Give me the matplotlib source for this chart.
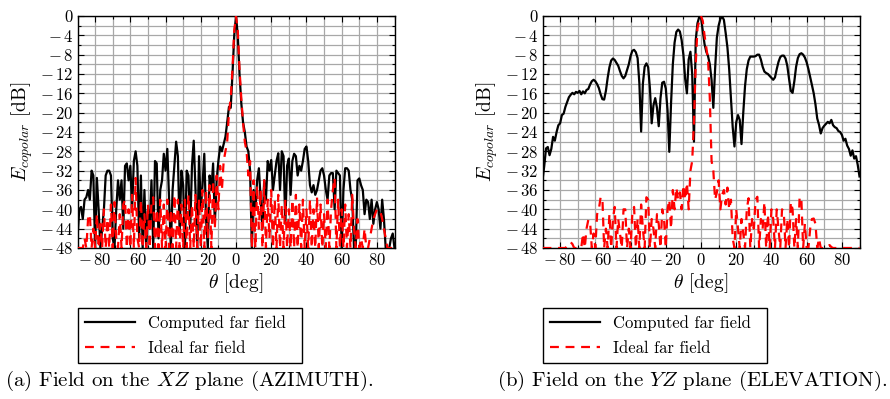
import numpy as np
import matplotlib.pyplot as plt
from matplotlib.ticker import MultipleLocator, FuncFormatter

plt.rcParams['mathtext.fontset'] = 'cm'
plt.rcParams['font.family'] = 'serif'
plt.rcParams['font.serif'] = ['cmr10']
plt.rcParams['axes.formatter.use_mathtext'] = True
plt.rcParams['axes.unicode_minus'] = True

# Winkel in Grad, 1 Grad Schritte
theta = np.arange(-90, 91)

# Azimut (XZ-Ebene)
az_comp = [
    -46, -40, -39.5, -42, -38, -37.5, -36, -38, -32, -33,        # -90
    -48, -33.5, -40, -48, -44, -40, -33, -32, -32, -33,          # -80
    -46, -48, -40, -34, -38, -34, -44, -31, -30.5, -34,          # -70
    -31, -40, -30, -28, -31, -46, -33, -48, -36, -48,            # -60
    -40, -44, -34, -48, -30, -30.5, -46, -36, -34, -28.5,        # -50
    -32, -27.5, -38, -48, -36, -31, -26, -29, -45, -32,          # -40
    -35, -48, -32, -33, -44, -31, -25.8, -36, -48, -29,          # -30
    -40, -35, -28.5, -42, -48, -33, -36, -30.5, -43, -34,        # -20
    -30, -27, -28, -26.5, -25, -22, -18.8, -19, -12, -4,         # -10
    0, -4, -12, -18, -22, -24, -27, -28, -32, -48,               # 0
    -36, -40, -34, -31.5, -38, -44, -34, -38, -30, -32,          # 10
    -29.8, -36, -33, -30, -28.4, -36, -28, -29, -43, -31,        # 20
    -29.5, -37, -30, -28.5, -29, -33, -31, -32, -30, -27.5,      # 30
    -27, -30, -35, -36.5, -35, -37, -36, -34, -32, -31.5,        # 40
    -33, -36, -38, -33, -32.5, -32.5, -40, -32, -32.5, -33,      # 50
    -48, -36, -31.5, -31.5, -32, -36, -38, -48, -48, -34,        # 60
    -33.6, -35, -36, -41, -38, -38.5, -42, -38, -43, -40,        # 70
    -38.5, -40, -44, -38, -42, -48, -48, -48, -46, -45,          # 80
    -48,
]
az_ideal = [
    -48, -48, -48, -48, -46, -48, -42, -41, -48, -44,
    -48, -41, -48, -43, -48, -40, -48, -42, -48, -39,
    -48, -38.5, -46, -48, -41, -48, -39, -38, -48, -40,
    -48, -37, -48, -33.5, -46, -48, -38, -48, -41, -48,
    -39, -48, -38.5, -37.5, -48, -40, -48, -38, -48, -39,
    -48, -38, -48, -40, -48, -37, -48, -38, -48, -39,
    -48, -38, -48, -37, -48, -39, -48, -37, -48, -38,
    -48, -36, -48, -36, -46, -35, -48, -34, -44, -33,
    -40, -31, -36, -30, -28, -26, -20, -17, -11, -3,
    0, -3, -11, -17, -22, -26, -28, -33, -30, -48,
    -34, -48, -35, -44, -36, -48, -34, -48, -38, -46,
    -36, -48, -38, -48, -37, -48, -39, -48, -38, -48,
    -40, -48, -38, -48, -37, -48, -39, -48, -38, -48,
    -40, -48, -38, -48, -40, -48, -37.5, -48, -39, -48,
    -41, -48, -38, -48, -40, -36, -33.5, -48, -38, -48,
    -40, -48, -39, -48, -41, -48, -37, -44, -48, -42,
    -48, -46, -48, -44, -48, -48, -46, -44, -42, -41,
    -40, -40, -40.5, -42, -44, -46, -48, -48, -48, -48,
    -48,
]

# Elevation (YZ-Ebene)
el_comp = [
    -34, -31, -27.4, -27.1, -28.8, -27.5, -25, -25.8, -24, -22.6,
    -22.2, -20.5, -20.2, -18.8, -17.8, -16.8, -16.3, -15.9, -16.2, -15.7,
    -15.9, -15.5, -16.2, -15.6, -16, -15.3, -15.1, -14.2, -13.5, -13.2,
    -13.5, -14.1, -14.9, -16.2, -17.2, -17.3, -15.5, -12.8, -10.6, -9.2,
    -8.8, -9.1, -9.7, -10.3, -11.4, -12.4, -12.9, -12.4, -11.2, -10.0,
    -8.3, -7.2, -7.0, -7.5, -8.7, -13.9, -23.9, -14, -10.5, -9.8,
    -10.6, -15, -22.2, -18.5, -17.0, -19, -22.8, -17, -13.8, -13.6,
    -15, -19.5, -28.1, -18, -10, -5.5, -3.3, -2.8, -3.2, -5,
    -8, -13, -16, -9, -7.4, -12, -26, -5, -1.5, -0.2,
    -0.3, -3, -5.8, -7.4, -8.3, -10, -13.2, -19, -11, -4.5,
    -2, -0.6, -0.1, -0.8, -3.5, -6.5, -11, -17, -23, -27,
    -22, -20.5, -21.5, -26.5, -20, -14.5, -11, -9.2, -8.4, -8.4,
    -8.4, -8.3, -8.0, -8.0, -9, -10.5, -11.5, -11.8, -12, -12.4,
    -12.8, -13.2, -12.7, -11, -9.5, -8.5, -8.2, -8.2, -8.8, -10.3,
    -13, -15.5, -15.9, -13.5, -10.5, -8.7, -7.9, -7.7, -8, -8.6,
    -9.6, -11, -12.6, -14.3, -16, -18.3, -21.2, -22.5, -24.3, -23.2,
    -22.7, -22.3, -21.9, -22.2, -21.5, -22.6, -23, -23.2, -23.8, -24,
    -24.6, -25.8, -25.4, -26.8, -27.5, -28.9, -27.8, -29.5, -29, -30.8,
    -33.2,
]
el_ideal = [
    -48, -48, -48, -48, -48, -48, -48, -48, -48, -48,
    -48, -48, -48, -48, -47.5, -47, -46.8, -47.2, -48, -48,
    -48, -48, -48, -45, -48, -44, -42.2, -42.5, -48, -45,
    -48, -41, -40, -37.5, -37.6, -48, -44, -48, -41, -48,
    -42, -39.5, -48, -42, -45, -48, -40, -40, -48, -44,
    -48, -41, -39.5, -48, -42, -48, -39, -44, -48, -37.5,
    -38, -48, -42, -44, -48, -41, -43, -48, -40, -42,
    -48, -40, -38, -44, -36, -40, -35.5, -38, -36.5, -40,
    -35, -38, -34.5, -40, -32, -30, -22, -10, -2.5, -1,
    0, -1, -4, -6.5, -9, -17, -30, -32, -38, -36.5,
    -34, -40, -37, -36, -39, -35.5, -40, -38, -46, -48,
    -40, -44, -48, -42, -45, -48, -40, -37.7, -48, -42,
    -44, -38, -37.4, -48, -42, -44, -38.5, -48, -41, -48,
    -40, -42, -48, -40, -44, -48, -40, -40.5, -48, -42,
    -48, -38.5, -40, -48, -42, -48, -37.4, -38, -48, -43,
    -48, -48, -44, -42, -41.9, -43, -48, -46, -48, -48,
    -48, -48, -47.6, -47.4, -47.8, -48, -48, -48, -48, -48,
    -48, -48, -48, -48, -48, -48, -48, -48, -48, -48,
    -48,
]

panels = [
    (az_comp, az_ideal, 77.5, r'(a) Field on the $XZ$ plane (AZIMUTH).', 5),
    (el_comp, el_ideal, 542.5, r'(b) Field on the $YZ$ plane (ELEVATION).', 497),
]


def tick_fmt(v, pos):
    # Minuszeichen mit etwas Abstand, wie im LaTeX-Satz
    v = int(round(v))
    if v < 0:
        return r'$-\,%d$' % abs(v)
    return r'$%d$' % v


W, H = 890, 399
fig = plt.figure(figsize=(W / 100, H / 100), dpi=100)

for comp, ideal, x0, caption, cx in panels:
    ax = fig.add_axes([x0 / W, 1 - 248 / H, 317 / W, 232 / H])
    ax.plot(theta, comp, color='black', lw=1.6, label='Computed far field', zorder=3)
    ax.plot(theta, ideal, color='red', lw=1.6, dashes=(4, 3), label='Ideal far field', zorder=4)
    ax.set_xlim(-90, 90)
    ax.set_ylim(-48, 0)
    ax.set_xticks(np.arange(-80, 81, 20))
    ax.set_yticks(np.arange(-48, 1, 4))
    ax.xaxis.set_major_formatter(FuncFormatter(tick_fmt))
    ax.yaxis.set_major_formatter(FuncFormatter(tick_fmt))
    ax.xaxis.set_minor_locator(MultipleLocator(10))
    ax.yaxis.set_minor_locator(MultipleLocator(2))
    ax.grid(True, which='both', color='#a8a8a8', lw=0.9)
    ax.set_axisbelow(True)
    ax.tick_params(which='both', direction='in', top=True, right=True,
                   labelsize=12, width=0.8, color='black', pad=3)
    ax.tick_params(which='major', length=4)
    ax.tick_params(which='minor', length=2)
    for s in ax.spines.values():
        s.set_linewidth(1.0)
    ax.set_xlabel(r'$\theta$ [deg]', fontsize=14, labelpad=2)
    ax.set_ylabel(r'$E_{copolar}$ [dB]', fontsize=14)
    ax.yaxis.set_label_coords(-0.135, 0.5)
    ax.legend(loc='upper left', mode='expand',
              bbox_to_anchor=(x0 / W, 1 - 360 / H, 224 / W, 52 / H),
              bbox_transform=fig.transFigure, borderaxespad=0,
              fancybox=False, framealpha=1, edgecolor='black', fontsize=12,
              handlelength=3.0, borderpad=0.45, labelspacing=0.55)
    ax.get_legend().get_frame().set_linewidth(1.0)
    fig.text(cx / W, 1 - 381 / H, caption, fontsize=15, va='center', ha='left')

fig.savefig('out.png', dpi=100)
